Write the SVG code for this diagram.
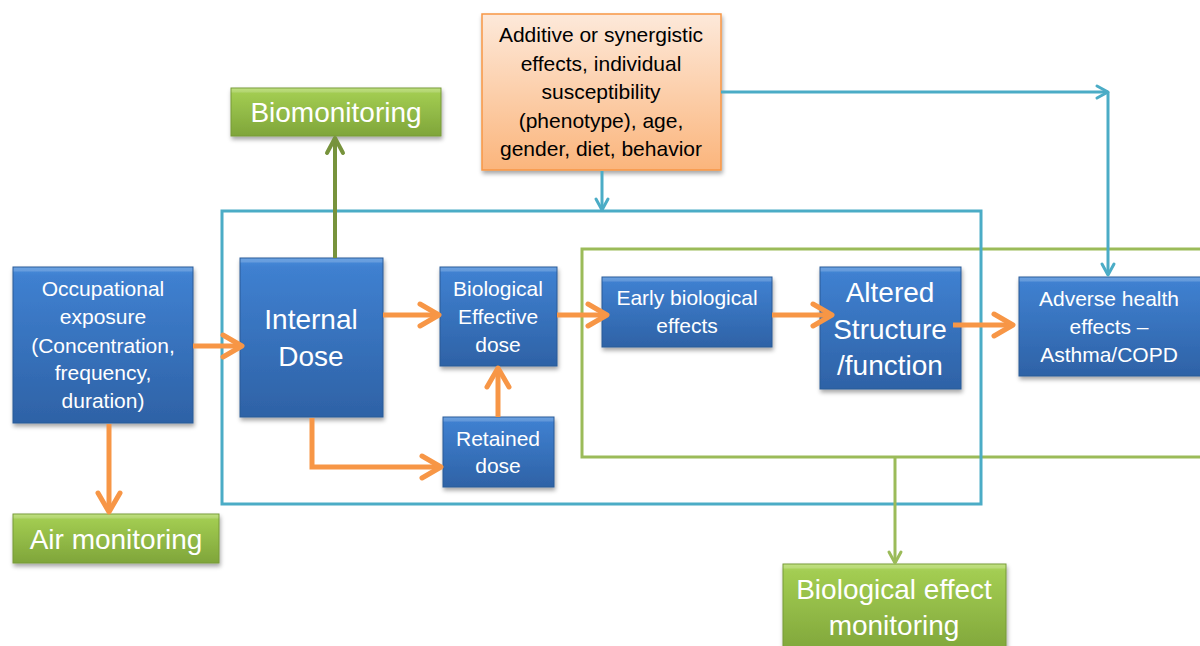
<svg xmlns="http://www.w3.org/2000/svg" width="1200" height="646" viewBox="0 0 1200 646">
  <style>
    text { font-family: "Liberation Sans", Arial, sans-serif; text-anchor: middle; }
    .blue { fill: url(#gBlue); stroke: #2a5a96; stroke-width: 1; filter: url(#shadow); }
    .green { fill: url(#gGreen); stroke: #779a38; stroke-width: 1; filter: url(#shadow); }
    .orange { fill: url(#gOrange); stroke: #f79646; stroke-width: 1.5; filter: url(#shadow); }
    .hl { fill: #ffffff; opacity: 0.18; }
    .tw { fill: #ffffff; }
    .tb { fill: #000000; }
    .s21 { font-size: 21px; }
    .s28 { font-size: 28px; }
    .ao { stroke: #f79646; stroke-width: 5; fill: none; }
    .at { stroke: #4bacc6; stroke-width: 3; fill: none; }
    .ag { stroke: #9bbb59; stroke-width: 3; fill: none; }
    .ad { stroke: #77933c; stroke-width: 4; fill: none; }
  </style>
  <defs>
    <linearGradient id="gBlue" x1="0" y1="0" x2="0" y2="1">
      <stop offset="0" stop-color="#4a8ddb"/>
      <stop offset="0.06" stop-color="#3f80d0"/>
      <stop offset="1" stop-color="#2e62a6"/>
    </linearGradient>
    <linearGradient id="gGreen" x1="0" y1="0" x2="0" y2="1">
      <stop offset="0" stop-color="#b3da66"/>
      <stop offset="0.08" stop-color="#a3cd52"/>
      <stop offset="1" stop-color="#7fa53a"/>
    </linearGradient>
    <linearGradient id="gOrange" x1="0" y1="0" x2="0" y2="1">
      <stop offset="0" stop-color="#fde9da"/>
      <stop offset="1" stop-color="#fbb57c"/>
    </linearGradient>
    <filter id="shadow" x="-10%" y="-10%" width="130%" height="130%">
      <feDropShadow dx="1" dy="3" stdDeviation="2" flood-color="#000000" flood-opacity="0.35"/>
    </filter>
    <marker id="mO" markerUnits="userSpaceOnUse" markerWidth="30" markerHeight="30" viewBox="-26 -15 30 30" refX="0" refY="0" orient="auto" overflow="visible">
      <path d="M-19,-11 L0,0 L-19,11" stroke="#f79646" stroke-width="5" fill="none" stroke-linecap="round" stroke-linejoin="round"/>
    </marker>
    <marker id="mT" markerUnits="userSpaceOnUse" markerWidth="20" markerHeight="20" viewBox="-16 -10 20 20" refX="0" refY="0" orient="auto" overflow="visible">
      <path d="M-11,-6 L0,0 L-11,6" stroke="#4bacc6" stroke-width="3" fill="none" stroke-linecap="round" stroke-linejoin="round"/>
    </marker>
    <marker id="mG" markerUnits="userSpaceOnUse" markerWidth="20" markerHeight="20" viewBox="-16 -10 20 20" refX="0" refY="0" orient="auto" overflow="visible">
      <path d="M-11,-6 L0,0 L-11,6" stroke="#9bbb59" stroke-width="3" fill="none" stroke-linecap="round" stroke-linejoin="round"/>
    </marker>
    <marker id="mD" markerUnits="userSpaceOnUse" markerWidth="24" markerHeight="24" viewBox="-20 -12 24 24" refX="0" refY="0" orient="auto" overflow="visible">
      <path d="M-15,-8 L0,0 L-15,8" stroke="#77933c" stroke-width="4" fill="none" stroke-linecap="round" stroke-linejoin="round"/>
    </marker>
  </defs>

  <rect width="1200" height="646" fill="#ffffff"/>

  <!-- region frames -->
  <g id="frames">
    <rect id="frame-green" x="582" y="249" width="640" height="208" fill="none" stroke="#9bbb59" stroke-width="3"/>
    <rect id="frame-teal" x="222" y="211" width="759" height="293" fill="none" stroke="#4bacc6" stroke-width="3"/>
  </g>

  <!-- nodes -->
  <g id="occupational">
    <rect class="blue" x="13" y="267" width="180" height="156"/>
    <rect class="hl" x="13.5" y="267.5" width="179" height="4"/>
    <text class="tw s21" x="103" y="296">Occupational</text>
    <text class="tw s21" x="103" y="324">exposure</text>
    <text class="tw s21" x="103" y="353">(Concentration,</text>
    <text class="tw s21" x="103" y="380">frequency,</text>
    <text class="tw s21" x="103" y="408">duration)</text>
  </g>
  <g id="internal-dose">
    <rect class="blue" x="240" y="258" width="143" height="159"/>
    <rect class="hl" x="240.5" y="258.5" width="142" height="4"/>
    <text class="tw s28" x="311" y="329">Internal</text>
    <text class="tw s28" x="311" y="366">Dose</text>
  </g>
  <g id="bio-effective-dose">
    <rect class="blue" x="440" y="267" width="117" height="99"/>
    <rect class="hl" x="440.5" y="267.5" width="116" height="4"/>
    <text class="tw s21" x="498" y="296">Biological</text>
    <text class="tw s21" x="498" y="324">Effective</text>
    <text class="tw s21" x="498" y="352">dose</text>
  </g>
  <g id="retained-dose">
    <rect class="blue" x="443" y="417" width="111" height="70"/>
    <rect class="hl" x="443.5" y="417.5" width="110" height="4"/>
    <text class="tw s21" x="498" y="446">Retained</text>
    <text class="tw s21" x="498" y="473">dose</text>
  </g>
  <g id="early-effects">
    <rect class="blue" x="602" y="277" width="170" height="70"/>
    <rect class="hl" x="602.5" y="277.5" width="169" height="4"/>
    <text class="tw s21" x="687" y="305">Early biological</text>
    <text class="tw s21" x="687" y="333">effects</text>
  </g>
  <g id="altered-structure">
    <rect class="blue" x="820" y="267" width="141" height="122"/>
    <rect class="hl" x="820.5" y="267.5" width="140" height="4"/>
    <text class="tw s28" x="890" y="302">Altered</text>
    <text class="tw s28" x="890" y="339">Structure</text>
    <text class="tw s28" x="890" y="375">/function</text>
  </g>
  <g id="adverse-effects">
    <rect class="blue" x="1019" y="277" width="186" height="99"/>
    <rect class="hl" x="1019.5" y="277.5" width="185" height="4"/>
    <text class="tw s21" x="1109" y="306">Adverse health</text>
    <text class="tw s21" x="1109" y="334">effects –</text>
    <text class="tw s21" x="1109" y="362">Asthma/COPD</text>
  </g>
  <g id="modifiers">
    <rect class="orange" x="482" y="14" width="239" height="156"/>
    <text class="tb s21" x="601" y="42">Additive or synergistic</text>
    <text class="tb s21" x="601" y="71">effects, individual</text>
    <text class="tb s21" x="601" y="99">susceptibility</text>
    <text class="tb s21" x="601" y="128">(phenotype), age,</text>
    <text class="tb s21" x="601" y="156">gender, diet, behavior</text>
  </g>
  <g id="biomonitoring">
    <rect class="green" x="231" y="88" width="210" height="48"/>
    <rect class="hl" x="231.5" y="88.5" width="209" height="4"/>
    <text class="tw s28" x="336" y="122">Biomonitoring</text>
  </g>
  <g id="air-monitoring">
    <rect class="green" x="13" y="514" width="206" height="49"/>
    <rect class="hl" x="13.5" y="514.5" width="205" height="4"/>
    <text class="tw s28" x="116" y="549">Air monitoring</text>
  </g>
  <g id="bio-effect-monitoring">
    <rect class="green" x="783" y="564" width="223" height="90"/>
    <rect class="hl" x="783.5" y="564.5" width="222" height="4"/>
    <text class="tw s28" x="894" y="599">Biological effect</text>
    <text class="tw s28" x="894" y="635">monitoring</text>
  </g>

  <!-- connectors -->
  <g id="connectors">
    <line class="ao" x1="193" y1="346" x2="242" y2="346" marker-end="url(#mO)"/>
    <line class="ao" x1="109" y1="424" x2="109" y2="512" marker-end="url(#mO)"/>
    <line class="ao" x1="383" y1="315" x2="439" y2="315" marker-end="url(#mO)"/>
    <path class="ao" d="M312,418 V467 H441" marker-end="url(#mO)"/>
    <line class="ao" x1="498" y1="417" x2="498" y2="368" marker-end="url(#mO)"/>
    <line class="ao" x1="557" y1="315" x2="607" y2="315" marker-end="url(#mO)"/>
    <line class="ao" x1="772" y1="315" x2="832" y2="315" marker-end="url(#mO)"/>
    <line class="ao" x1="953" y1="325" x2="1013" y2="325" marker-end="url(#mO)"/>
    <line class="ad" x1="335" y1="258" x2="335" y2="138" marker-end="url(#mD)"/>
    <line class="at" x1="602" y1="171" x2="602" y2="210" marker-end="url(#mT)"/>
    <line class="at" x1="721" y1="92" x2="1108" y2="92" marker-end="url(#mT)"/>
    <line class="at" x1="1108" y1="92" x2="1108" y2="275" marker-end="url(#mT)"/>
    <line class="ag" x1="895" y1="458" x2="895" y2="563" marker-end="url(#mG)"/>
  </g>
</svg>
